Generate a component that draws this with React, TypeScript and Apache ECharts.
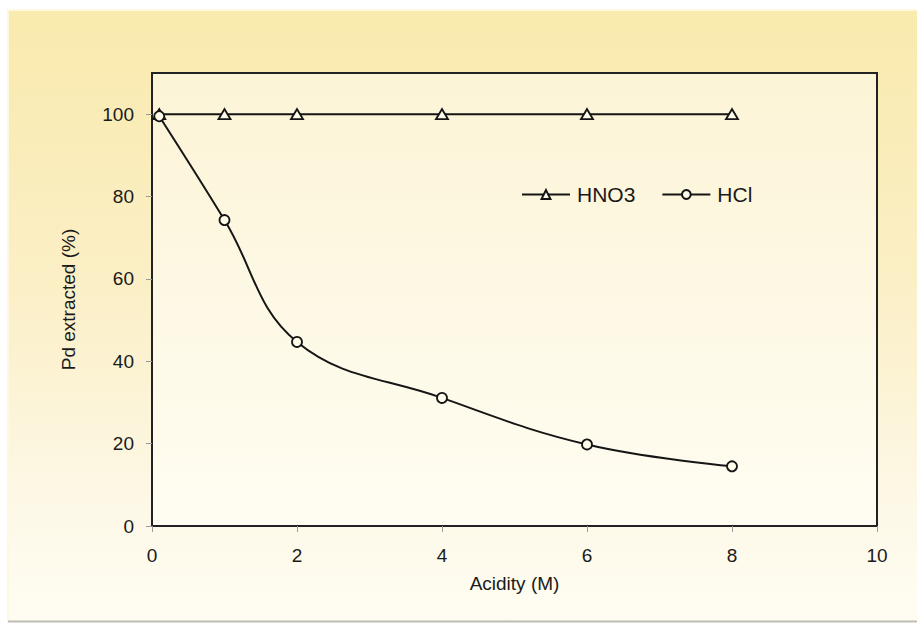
import React, { useEffect, useRef } from "react";
import * as echarts from "echarts";

const acidity = [0.1, 1, 2, 4, 6, 8];
const hno3Values = [100, 100, 100, 100, 100, 100];
const hclValues = [99.5, 74.3, 44.7, 31.1, 19.8, 14.5];
const yTicks = [0, 20, 40, 60, 80, 100];
const xTicks = [0, 2, 4, 6, 8, 10];

const FONT = "'Liberation Sans', Arial, sans-serif";

export default function App() {
  const ref = useRef<HTMLDivElement>(null);
  useEffect(() => {
    if (!ref.current) return;
    const chart = echarts.init(ref.current, undefined, { renderer: "svg" });
    const markerStyle = { color: "#fffbea", borderColor: "#151515", borderWidth: 1.8 };
    chart.setOption({
      animation: false,
      backgroundColor: "#ffffff",
      graphic: [
        {
          type: "rect",
          z: -100,
          silent: true,
          shape: { x: 8, y: 10, width: 912, height: 611 },
          style: {
            fill: new echarts.graphic.LinearGradient(0, 0, 0, 1, [
              { offset: 0, color: "#f9eaad" },
              { offset: 0.45, color: "#fbefc6" },
              { offset: 0.8, color: "#fdf8e6" },
              { offset: 1, color: "#fffdf3" },
            ]),
            stroke: "#fff8e0",
            lineWidth: 2,
          },
        },
        {
          type: "line",
          z: -99,
          silent: true,
          shape: { x1: 8, y1: 621.5, x2: 917, y2: 621.5 },
          style: { stroke: "#bdbdb6", lineWidth: 2 },
        },
      ],
      grid: {
        left: 152,
        right: 40,
        top: 73,
        bottom: 99,
        show: true,
        borderColor: "#222",
        borderWidth: 2,
        backgroundColor: new echarts.graphic.LinearGradient(0, 0, 0, 1, [
          { offset: 0, color: "#fcf4d6" },
          { offset: 1, color: "#fffdf3" },
        ]),
      },
      legend: {
        left: 516,
        top: 179,
        itemWidth: 48,
        itemHeight: 11,
        itemGap: 26,
        textStyle: { fontFamily: FONT, fontSize: 21, color: "#1a1a1a", padding: [0, 0, 0, 2] },
        data: ["HNO3", "HCl"],
      },
      xAxis: {
        type: "value",
        min: 0,
        max: 10,
        interval: 2,
        name: "Acidity (M)",
        nameLocation: "middle",
        nameGap: 48,
        nameTextStyle: { fontFamily: FONT, fontSize: 19, color: "#1a1a1a" },
        axisLine: { lineStyle: { color: "#222", width: 2 } },
        axisTick: { show: true, inside: false, length: 6, lineStyle: { color: "#9a9a9a" }, customValues: xTicks },
        axisLabel: { fontFamily: FONT, fontSize: 19, color: "#1a1a1a", margin: 20, customValues: xTicks },
        splitLine: { show: false },
      },
      yAxis: {
        type: "value",
        min: 0,
        max: 110,
        interval: 20,
        name: "Pd extracted (%)",
        nameLocation: "middle",
        nameGap: 74,
        nameTextStyle: { fontFamily: FONT, fontSize: 19, color: "#1a1a1a" },
        axisLine: { show: true, lineStyle: { color: "#222", width: 2 } },
        axisTick: { show: true, inside: false, length: 6, lineStyle: { color: "#9a9a9a" }, customValues: yTicks },
        axisLabel: { fontFamily: FONT, fontSize: 19, color: "#1a1a1a", margin: 18, customValues: yTicks },
        splitLine: { show: false },
      },
      series: [
        {
          name: "HNO3",
          type: "line",
          data: acidity.map((x, i) => [x, hno3Values[i]]),
          symbol: "triangle",
          symbolSize: [12, 10],
          showAllSymbol: true,
          lineStyle: { color: "#151515", width: 2 },
          itemStyle: markerStyle,
          z: 2,
        },
        {
          name: "HCl",
          type: "line",
          data: acidity.map((x, i) => [x, hclValues[i]]),
          symbol: "circle",
          symbolSize: 10,
          smooth: 0.4,
          showAllSymbol: true,
          lineStyle: { color: "#151515", width: 2 },
          itemStyle: markerStyle,
          z: 3,
        },
      ],
    });
    return () => chart.dispose();
  }, []);
  return (
    <div
      ref={ref}
      style={{ position: "absolute", left: 0, top: 0, width: 917, height: 625 }}
    />
  );
}
